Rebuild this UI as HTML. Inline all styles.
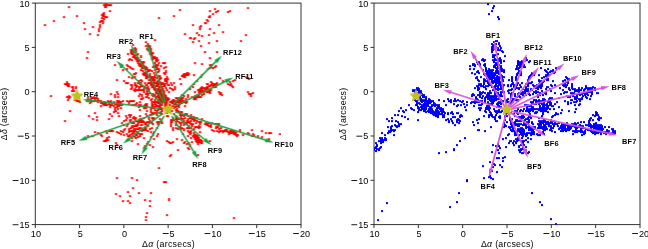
<!DOCTYPE html>
<html><head><meta charset="utf-8"><style>
html,body{margin:0;padding:0;background:#fff;width:648px;height:249px;overflow:hidden}
svg{display:block;will-change:transform}
text{font-family:"Liberation Sans",sans-serif;font-size:9.1px;fill:#000}
text.b{font-weight:bold;font-size:7.4px;letter-spacing:0.2px}
</style></head><body>
<svg width="648" height="249" viewBox="0 0 648 249" xmlns="http://www.w3.org/2000/svg">
<rect x="35.3" y="3.1" width="265.7" height="221.5" fill="none" stroke="#333" stroke-width="1"/>
<line x1="35.30" y1="224.6" x2="35.30" y2="228.1" stroke="#333" stroke-width="1"/>
<text x="30.84" y="236.80">10</text>
<line x1="79.58" y1="224.6" x2="79.58" y2="228.1" stroke="#333" stroke-width="1"/>
<text x="77.65" y="236.80">5</text>
<line x1="123.87" y1="224.6" x2="123.87" y2="228.1" stroke="#333" stroke-width="1"/>
<text x="121.94" y="236.80">0</text>
<line x1="168.15" y1="224.6" x2="168.15" y2="228.1" stroke="#333" stroke-width="1"/>
<text x="169.62" y="236.80">5</text><rect x="162.82" y="233.10" width="5.8" height="0.9" fill="#000"/>
<line x1="212.43" y1="224.6" x2="212.43" y2="228.1" stroke="#333" stroke-width="1"/>
<text x="211.37" y="236.80">10</text><rect x="204.57" y="233.10" width="5.8" height="0.9" fill="#000"/>
<line x1="256.72" y1="224.6" x2="256.72" y2="228.1" stroke="#333" stroke-width="1"/>
<text x="255.66" y="236.80">15</text><rect x="248.86" y="233.10" width="5.8" height="0.9" fill="#000"/>
<line x1="301.00" y1="224.6" x2="301.00" y2="228.1" stroke="#333" stroke-width="1"/>
<text x="299.94" y="236.80">20</text><rect x="293.14" y="233.10" width="5.8" height="0.9" fill="#000"/>
<line x1="31.799999999999997" y1="3.10" x2="35.3" y2="3.10" stroke="#333" stroke-width="1"/>
<text x="19.48" y="6.50">10</text>
<line x1="31.799999999999997" y1="47.40" x2="35.3" y2="47.40" stroke="#333" stroke-width="1"/>
<text x="24.54" y="50.80">5</text>
<line x1="31.799999999999997" y1="91.70" x2="35.3" y2="91.70" stroke="#333" stroke-width="1"/>
<text x="24.54" y="95.10">0</text>
<line x1="31.799999999999997" y1="136.00" x2="35.3" y2="136.00" stroke="#333" stroke-width="1"/>
<text x="24.54" y="139.40">5</text><rect x="17.74" y="135.70" width="5.8" height="0.9" fill="#000"/>
<line x1="31.799999999999997" y1="180.30" x2="35.3" y2="180.30" stroke="#333" stroke-width="1"/>
<text x="19.48" y="183.70">10</text><rect x="12.68" y="180.00" width="5.8" height="0.9" fill="#000"/>
<line x1="31.799999999999997" y1="224.60" x2="35.3" y2="224.60" stroke="#333" stroke-width="1"/>
<text x="19.48" y="228.00">15</text><rect x="12.68" y="224.30" width="5.8" height="0.9" fill="#000"/>
<rect x="374.0" y="3.1" width="266.0" height="221.5" fill="none" stroke="#333" stroke-width="1"/>
<line x1="374.00" y1="224.6" x2="374.00" y2="228.1" stroke="#333" stroke-width="1"/>
<text x="369.54" y="236.80">10</text>
<line x1="418.33" y1="224.6" x2="418.33" y2="228.1" stroke="#333" stroke-width="1"/>
<text x="416.40" y="236.80">5</text>
<line x1="462.67" y1="224.6" x2="462.67" y2="228.1" stroke="#333" stroke-width="1"/>
<text x="460.74" y="236.80">0</text>
<line x1="507.00" y1="224.6" x2="507.00" y2="228.1" stroke="#333" stroke-width="1"/>
<text x="508.47" y="236.80">5</text><rect x="501.67" y="233.10" width="5.8" height="0.9" fill="#000"/>
<line x1="551.33" y1="224.6" x2="551.33" y2="228.1" stroke="#333" stroke-width="1"/>
<text x="550.27" y="236.80">10</text><rect x="543.47" y="233.10" width="5.8" height="0.9" fill="#000"/>
<line x1="595.67" y1="224.6" x2="595.67" y2="228.1" stroke="#333" stroke-width="1"/>
<text x="594.61" y="236.80">15</text><rect x="587.81" y="233.10" width="5.8" height="0.9" fill="#000"/>
<line x1="640.00" y1="224.6" x2="640.00" y2="228.1" stroke="#333" stroke-width="1"/>
<text x="638.94" y="236.80">20</text><rect x="632.14" y="233.10" width="5.8" height="0.9" fill="#000"/>
<line x1="370.5" y1="3.10" x2="374.0" y2="3.10" stroke="#333" stroke-width="1"/>
<text x="358.18" y="6.50">10</text>
<line x1="370.5" y1="47.40" x2="374.0" y2="47.40" stroke="#333" stroke-width="1"/>
<text x="363.24" y="50.80">5</text>
<line x1="370.5" y1="91.70" x2="374.0" y2="91.70" stroke="#333" stroke-width="1"/>
<text x="363.24" y="95.10">0</text>
<line x1="370.5" y1="136.00" x2="374.0" y2="136.00" stroke="#333" stroke-width="1"/>
<text x="363.24" y="139.40">5</text><rect x="356.44" y="135.70" width="5.8" height="0.9" fill="#000"/>
<line x1="370.5" y1="180.30" x2="374.0" y2="180.30" stroke="#333" stroke-width="1"/>
<text x="358.18" y="183.70">10</text><rect x="351.38" y="180.00" width="5.8" height="0.9" fill="#000"/>
<line x1="370.5" y1="224.60" x2="374.0" y2="224.60" stroke="#333" stroke-width="1"/>
<text x="358.18" y="228.00">15</text><rect x="351.38" y="224.30" width="5.8" height="0.9" fill="#000"/>
<text style="font-size:8.8px;letter-spacing:0.28px" x="168.55" y="247.4" text-anchor="middle">Δ<tspan font-style="italic">α</tspan> (arcsecs)</text>
<text style="font-size:8.8px;letter-spacing:0.28px" x="507.4" y="247.4" text-anchor="middle">Δ<tspan font-style="italic">α</tspan> (arcsecs)</text>
<text style="font-size:8.8px;letter-spacing:0.28px" transform="translate(7.0,113.9) rotate(-90)" text-anchor="middle">Δ<tspan font-style="italic">δ</tspan> (arcsecs)</text>
<text style="font-size:8.8px;letter-spacing:0.28px" transform="translate(346.2,113.9) rotate(-90)" text-anchor="middle">Δ<tspan font-style="italic">δ</tspan> (arcsecs)</text>
<svg x="35.3" y="3.1" width="266.7" height="222.5" overflow="hidden"><g transform="translate(-35.3,-3.1)">
<path fill="#ff0000" d="M68,6h2v2h-2zM63,16h2v2h-2zM76,15h2v2h-2zM53,20h2v2h-2zM44,24h2v2h-2zM83,22h2v2h-2zM84,28h2v2h-2zM92,26h2v2h-2zM89,33h2v2h-2zM97,34h2v2h-2zM99,26h2v2h-2zM98,28h2v2h-2zM99,21h2v2h-2zM100,20h2v2h-2zM102,22h2v2h-2zM101,17h2v2h-2zM102,15h2v2h-2zM103,14h2v2h-2zM104,16h2v2h-2zM102,13h2v2h-2zM103,12h2v2h-2zM101,14h2v2h-2zM106,16h2v2h-2zM109,10h2v2h-2zM104,6h2v2h-2zM103,4h2v2h-2zM105,3h2v2h-2zM106,4h2v2h-2zM108,4h2v2h-2zM110,4h2v2h-2zM104,5h2v2h-2zM105,6h2v2h-2zM87,51h2v2h-2zM98,30h2v2h-2zM99,24h2v2h-2zM103,18h2v2h-2zM102,20h2v2h-2zM179,9h2v2h-2zM173,15h2v2h-2zM158,17h2v2h-2zM154,39h2v2h-2zM145,41h2v2h-2zM149,47h2v2h-2zM146,48h2v2h-2zM135,48h2v2h-2zM209,10h2v2h-2zM214,8h2v2h-2zM217,10h2v2h-2zM215,11h2v2h-2zM212,13h2v2h-2zM209,15h2v2h-2zM208,16h2v2h-2zM209,16h2v2h-2zM206,19h2v2h-2zM205,22h2v2h-2zM204,22h2v2h-2zM200,25h2v2h-2zM199,26h2v2h-2zM199,28h2v2h-2zM192,24h2v2h-2zM209,28h2v2h-2zM218,24h2v2h-2zM222,31h2v2h-2zM213,32h2v2h-2zM208,34h2v2h-2zM184,33h2v2h-2zM196,32h2v2h-2zM198,34h2v2h-2zM201,35h2v2h-2zM198,40h2v2h-2zM193,38h2v2h-2zM192,41h2v2h-2zM190,37h2v2h-2zM194,37h2v2h-2zM189,37h2v2h-2zM200,45h2v2h-2zM208,42h2v2h-2zM216,40h2v2h-2zM204,51h2v2h-2zM216,51h2v2h-2zM227,11h2v2h-2zM229,10h2v2h-2zM207,20h2v2h-2zM247,7h2v2h-2zM245,34h2v2h-2zM240,40h2v2h-2zM86,57h2v2h-2zM66,81h2v2h-2zM64,83h2v2h-2zM66,82h2v2h-2zM67,84h2v2h-2zM68,85h2v2h-2zM71,86h2v2h-2zM72,86h2v2h-2zM75,86h2v2h-2zM50,95h2v2h-2zM66,84h2v2h-2zM67,85h2v2h-2zM68,83h2v2h-2zM72,88h2v2h-2zM73,90h2v2h-2zM75,87h2v2h-2zM71,90h2v2h-2zM68,95h2v2h-2zM66,96h2v2h-2zM68,97h2v2h-2zM69,96h2v2h-2zM67,99h2v2h-2zM76,100h2v2h-2zM78,100h2v2h-2zM79,101h2v2h-2zM74,99h2v2h-2zM75,98h2v2h-2zM87,97h2v2h-2zM90,96h2v2h-2zM93,96h2v2h-2zM94,97h2v2h-2zM96,97h2v2h-2zM97,98h2v2h-2zM90,98h2v2h-2zM93,100h2v2h-2zM96,100h2v2h-2zM99,100h2v2h-2zM102,101h2v2h-2zM100,102h2v2h-2zM103,103h2v2h-2zM92,100h2v2h-2zM89,100h2v2h-2zM86,100h2v2h-2zM90,97h2v2h-2zM92,97h2v2h-2zM94,99h2v2h-2zM98,100h2v2h-2zM100,100h2v2h-2zM102,102h2v2h-2zM69,110h2v2h-2zM88,115h2v2h-2zM94,112h2v2h-2zM96,116h2v2h-2zM100,105h2v2h-2zM103,104h2v2h-2zM114,64h2v2h-2zM132,44h2v2h-2zM134,47h2v2h-2zM135,51h2v2h-2zM137,53h2v2h-2zM140,55h2v2h-2zM140,56h2v2h-2zM127,53h2v2h-2zM129,58h2v2h-2zM131,59h2v2h-2zM128,59h2v2h-2zM126,64h2v2h-2zM127,65h2v2h-2zM129,66h2v2h-2zM130,67h2v2h-2zM132,68h2v2h-2zM126,68h2v2h-2zM120,66h2v2h-2zM122,69h2v2h-2zM160,65h2v2h-2zM162,62h2v2h-2zM163,67h2v2h-2zM156,57h2v2h-2zM157,59h2v2h-2zM158,62h2v2h-2zM150,52h2v2h-2zM149,53h2v2h-2zM136,54h2v2h-2zM141,61h2v2h-2zM138,59h2v2h-2zM131,50h2v2h-2zM131,49h2v2h-2zM132,49h2v2h-2zM135,58h2v2h-2zM133,51h2v2h-2zM137,62h2v2h-2zM139,60h2v2h-2zM146,67h2v2h-2zM143,66h2v2h-2zM133,56h2v2h-2zM132,53h2v2h-2zM140,61h2v2h-2zM139,59h2v2h-2zM140,62h2v2h-2zM134,55h2v2h-2zM137,57h2v2h-2zM141,65h2v2h-2zM133,54h2v2h-2zM136,60h2v2h-2zM141,63h2v2h-2zM145,68h2v2h-2zM132,52h2v2h-2zM130,50h2v2h-2zM141,64h2v2h-2zM140,63h2v2h-2zM138,60h2v2h-2zM141,67h2v2h-2zM136,59h2v2h-2zM138,63h2v2h-2zM143,65h2v2h-2zM135,57h2v2h-2zM130,49h2v2h-2zM134,51h2v2h-2zM134,57h2v2h-2zM131,52h2v2h-2zM132,56h2v2h-2zM135,50h2v2h-2zM131,51h2v2h-2zM131,53h2v2h-2zM130,52h2v2h-2zM157,68h2v2h-2zM152,57h2v2h-2zM156,60h2v2h-2zM156,67h2v2h-2zM156,66h2v2h-2zM151,54h2v2h-2zM147,47h2v2h-2zM149,45h2v2h-2zM150,48h2v2h-2zM152,52h2v2h-2zM147,43h2v2h-2zM148,46h2v2h-2zM145,45h2v2h-2zM155,59h2v2h-2zM150,50h2v2h-2zM155,66h2v2h-2zM152,56h2v2h-2zM151,52h2v2h-2zM157,64h2v2h-2zM154,56h2v2h-2zM154,57h2v2h-2zM151,58h2v2h-2zM147,49h2v2h-2zM152,58h2v2h-2zM154,65h2v2h-2zM155,65h2v2h-2zM149,50h2v2h-2zM147,44h2v2h-2zM149,51h2v2h-2zM158,68h2v2h-2zM156,68h2v2h-2zM150,49h2v2h-2zM116,79h2v2h-2zM123,80h2v2h-2zM125,82h2v2h-2zM130,84h2v2h-2zM130,88h2v2h-2zM138,95h2v2h-2zM131,77h2v2h-2zM134,73h2v2h-2zM132,76h2v2h-2zM134,76h2v2h-2zM133,73h2v2h-2zM128,76h2v2h-2zM135,72h2v2h-2zM127,82h2v2h-2zM152,95h2v2h-2zM134,90h2v2h-2zM140,98h2v2h-2zM131,85h2v2h-2zM131,87h2v2h-2zM134,88h2v2h-2zM142,97h2v2h-2zM139,89h2v2h-2zM137,82h2v2h-2zM146,90h2v2h-2zM133,89h2v2h-2zM141,95h2v2h-2zM131,84h2v2h-2zM147,89h2v2h-2zM141,94h2v2h-2zM142,89h2v2h-2zM139,93h2v2h-2zM137,89h2v2h-2zM145,96h2v2h-2zM141,98h2v2h-2zM148,97h2v2h-2zM144,82h2v2h-2zM151,98h2v2h-2zM136,89h2v2h-2zM164,94h2v2h-2zM154,79h2v2h-2zM148,79h2v2h-2zM158,70h2v2h-2zM155,82h2v2h-2zM156,84h2v2h-2zM160,98h2v2h-2zM146,77h2v2h-2zM149,73h2v2h-2zM160,77h2v2h-2zM155,90h2v2h-2zM146,71h2v2h-2zM158,82h2v2h-2zM157,93h2v2h-2zM153,79h2v2h-2zM155,97h2v2h-2zM154,76h2v2h-2zM146,74h2v2h-2zM145,75h2v2h-2zM150,78h2v2h-2zM159,78h2v2h-2zM154,74h2v2h-2zM151,70h2v2h-2zM149,69h2v2h-2zM159,86h2v2h-2zM163,72h2v2h-2zM160,82h2v2h-2zM154,94h2v2h-2zM152,84h2v2h-2zM158,98h2v2h-2zM158,88h2v2h-2zM152,79h2v2h-2zM145,73h2v2h-2zM149,74h2v2h-2zM161,89h2v2h-2zM149,76h2v2h-2zM150,83h2v2h-2zM163,85h2v2h-2zM150,80h2v2h-2zM153,84h2v2h-2zM150,76h2v2h-2zM156,85h2v2h-2zM159,89h2v2h-2zM158,95h2v2h-2zM164,73h2v2h-2zM162,88h2v2h-2zM159,93h2v2h-2zM160,94h2v2h-2zM156,96h2v2h-2zM158,90h2v2h-2zM148,70h2v2h-2zM155,88h2v2h-2zM156,89h2v2h-2zM154,69h2v2h-2zM160,91h2v2h-2zM154,85h2v2h-2zM157,71h2v2h-2zM159,77h2v2h-2zM145,77h2v2h-2zM159,75h2v2h-2zM159,98h2v2h-2zM114,94h2v2h-2zM114,96h2v2h-2zM117,96h2v2h-2zM116,91h2v2h-2zM110,93h2v2h-2zM117,93h2v2h-2zM209,57h2v2h-2zM194,62h2v2h-2zM201,63h2v2h-2zM164,62h2v2h-2zM165,66h2v2h-2zM209,64h2v2h-2zM210,66h2v2h-2zM209,67h2v2h-2zM211,64h2v2h-2zM212,67h2v2h-2zM214,66h2v2h-2zM215,65h2v2h-2zM207,68h2v2h-2zM166,76h2v2h-2zM164,78h2v2h-2zM166,82h2v2h-2zM166,79h2v2h-2zM166,80h2v2h-2zM166,77h2v2h-2zM167,78h2v2h-2zM168,84h2v2h-2zM164,80h2v2h-2zM167,84h2v2h-2zM165,70h2v2h-2zM165,71h2v2h-2zM170,82h2v2h-2zM171,84h2v2h-2zM173,82h2v2h-2zM174,86h2v2h-2zM169,87h2v2h-2zM171,88h2v2h-2zM172,89h2v2h-2zM174,88h2v2h-2zM166,89h2v2h-2zM168,91h2v2h-2zM182,74h2v2h-2zM183,73h2v2h-2zM184,73h2v2h-2zM186,72h2v2h-2zM187,72h2v2h-2zM188,73h2v2h-2zM186,74h2v2h-2zM184,74h2v2h-2zM183,76h2v2h-2zM184,76h2v2h-2zM181,75h2v2h-2zM187,74h2v2h-2zM179,78h2v2h-2zM180,83h2v2h-2zM193,74h2v2h-2zM200,76h2v2h-2zM201,74h2v2h-2zM196,80h2v2h-2zM219,77h2v2h-2zM222,80h2v2h-2zM210,81h2v2h-2zM189,88h2v2h-2zM192,86h2v2h-2zM193,83h2v2h-2zM181,94h2v2h-2zM183,95h2v2h-2zM182,97h2v2h-2zM185,98h2v2h-2zM187,96h2v2h-2zM218,91h2v2h-2zM220,92h2v2h-2zM221,94h2v2h-2zM219,93h2v2h-2zM194,91h2v2h-2zM216,83h2v2h-2zM195,97h2v2h-2zM201,86h2v2h-2zM197,96h2v2h-2zM212,83h2v2h-2zM214,86h2v2h-2zM199,88h2v2h-2zM199,89h2v2h-2zM191,96h2v2h-2zM209,89h2v2h-2zM215,83h2v2h-2zM202,87h2v2h-2zM197,94h2v2h-2zM207,86h2v2h-2zM204,88h2v2h-2zM194,97h2v2h-2zM210,88h2v2h-2zM200,90h2v2h-2zM203,92h2v2h-2zM213,85h2v2h-2zM200,89h2v2h-2zM203,93h2v2h-2zM201,91h2v2h-2zM195,98h2v2h-2zM207,87h2v2h-2zM197,89h2v2h-2zM198,89h2v2h-2zM208,85h2v2h-2zM212,85h2v2h-2zM194,95h2v2h-2zM193,98h2v2h-2zM207,88h2v2h-2zM198,96h2v2h-2zM200,96h2v2h-2zM215,86h2v2h-2zM196,94h2v2h-2zM201,90h2v2h-2zM215,84h2v2h-2zM206,87h2v2h-2zM211,82h2v2h-2zM207,83h2v2h-2zM212,86h2v2h-2zM209,85h2v2h-2zM193,97h2v2h-2zM205,87h2v2h-2zM196,95h2v2h-2zM247,77h2v2h-2zM248,78h2v2h-2zM245,76h2v2h-2zM229,81h2v2h-2zM230,83h2v2h-2zM231,85h2v2h-2zM229,84h2v2h-2zM232,80h2v2h-2zM234,79h2v2h-2zM227,83h2v2h-2zM232,86h2v2h-2zM247,91h2v2h-2zM248,93h2v2h-2zM250,93h2v2h-2zM252,92h2v2h-2zM250,95h2v2h-2zM128,103h2v2h-2zM113,101h2v2h-2zM110,100h2v2h-2zM114,103h2v2h-2zM130,100h2v2h-2zM104,101h2v2h-2zM131,100h2v2h-2zM116,100h2v2h-2zM136,102h2v2h-2zM107,100h2v2h-2zM120,102h2v2h-2zM129,100h2v2h-2zM111,103h2v2h-2zM120,101h2v2h-2zM116,102h2v2h-2zM118,102h2v2h-2zM118,100h2v2h-2zM133,100h2v2h-2zM104,104h2v2h-2zM121,104h2v2h-2zM122,100h2v2h-2zM105,102h2v2h-2zM108,103h2v2h-2zM119,102h2v2h-2zM110,101h2v2h-2zM152,112h2v2h-2zM145,106h2v2h-2zM159,105h2v2h-2zM159,108h2v2h-2zM157,101h2v2h-2zM157,102h2v2h-2zM150,111h2v2h-2zM158,102h2v2h-2zM146,105h2v2h-2zM152,105h2v2h-2zM145,103h2v2h-2zM156,112h2v2h-2zM143,107h2v2h-2zM153,107h2v2h-2zM154,103h2v2h-2zM150,107h2v2h-2zM150,109h2v2h-2zM151,105h2v2h-2zM151,102h2v2h-2zM156,110h2v2h-2zM151,101h2v2h-2zM145,105h2v2h-2zM144,105h2v2h-2zM154,100h2v2h-2zM152,104h2v2h-2zM156,111h2v2h-2zM151,113h2v2h-2zM144,104h2v2h-2zM156,101h2v2h-2zM159,103h2v2h-2zM146,103h2v2h-2zM145,113h2v2h-2zM155,112h2v2h-2zM146,110h2v2h-2zM145,107h2v2h-2zM106,104h2v2h-2zM109,106h2v2h-2zM111,104h2v2h-2zM114,107h2v2h-2zM116,106h2v2h-2zM115,110h2v2h-2zM117,112h2v2h-2zM118,115h2v2h-2zM111,115h2v2h-2zM108,118h2v2h-2zM109,113h2v2h-2zM113,111h2v2h-2zM120,107h2v2h-2zM116,104h2v2h-2zM119,104h2v2h-2zM114,109h2v2h-2zM117,108h2v2h-2zM132,117h2v2h-2zM139,109h2v2h-2zM139,101h2v2h-2zM128,101h2v2h-2zM126,100h2v2h-2zM157,123h2v2h-2zM156,127h2v2h-2zM150,121h2v2h-2zM152,123h2v2h-2zM142,120h2v2h-2zM140,127h2v2h-2zM123,129h2v2h-2zM148,118h2v2h-2zM132,126h2v2h-2zM135,117h2v2h-2zM146,115h2v2h-2zM142,129h2v2h-2zM140,124h2v2h-2zM141,121h2v2h-2zM138,128h2v2h-2zM123,120h2v2h-2zM127,123h2v2h-2zM140,118h2v2h-2zM124,128h2v2h-2zM123,124h2v2h-2zM134,118h2v2h-2zM139,120h2v2h-2zM142,121h2v2h-2zM128,128h2v2h-2zM121,122h2v2h-2zM153,117h2v2h-2zM137,124h2v2h-2zM148,117h2v2h-2zM130,119h2v2h-2zM147,125h2v2h-2zM146,121h2v2h-2zM131,125h2v2h-2zM144,127h2v2h-2zM178,101h2v2h-2zM175,103h2v2h-2zM179,103h2v2h-2zM169,104h2v2h-2zM181,99h2v2h-2zM169,101h2v2h-2zM178,102h2v2h-2zM181,102h2v2h-2zM176,105h2v2h-2zM173,106h2v2h-2zM172,105h2v2h-2zM175,102h2v2h-2zM168,104h2v2h-2zM167,99h2v2h-2zM171,100h2v2h-2zM165,99h2v2h-2zM177,104h2v2h-2zM177,105h2v2h-2zM165,104h2v2h-2zM171,106h2v2h-2zM166,101h2v2h-2zM166,99h2v2h-2zM176,101h2v2h-2zM165,109h2v2h-2zM166,112h2v2h-2zM167,115h2v2h-2zM168,111h2v2h-2zM169,110h2v2h-2zM180,116h2v2h-2zM182,118h2v2h-2zM184,117h2v2h-2zM187,119h2v2h-2zM189,122h2v2h-2zM193,120h2v2h-2zM194,118h2v2h-2zM195,122h2v2h-2zM191,124h2v2h-2zM188,125h2v2h-2zM183,122h2v2h-2zM186,123h2v2h-2zM178,126h2v2h-2zM181,127h2v2h-2zM183,129h2v2h-2zM186,127h2v2h-2zM177,128h2v2h-2zM204,123h2v2h-2zM206,124h2v2h-2zM208,125h2v2h-2zM210,125h2v2h-2zM215,127h2v2h-2zM218,128h2v2h-2zM175,117h2v2h-2zM176,119h2v2h-2zM179,122h2v2h-2zM181,111h2v2h-2zM211,122h2v2h-2zM191,116h2v2h-2zM177,110h2v2h-2zM189,117h2v2h-2zM193,116h2v2h-2zM220,127h2v2h-2zM215,126h2v2h-2zM178,111h2v2h-2zM196,120h2v2h-2zM192,118h2v2h-2zM201,118h2v2h-2zM216,123h2v2h-2zM214,123h2v2h-2zM210,126h2v2h-2zM176,111h2v2h-2zM198,121h2v2h-2zM185,114h2v2h-2zM191,118h2v2h-2zM187,118h2v2h-2zM190,114h2v2h-2zM208,122h2v2h-2zM181,114h2v2h-2zM179,114h2v2h-2zM207,124h2v2h-2zM205,121h2v2h-2zM195,117h2v2h-2zM218,123h2v2h-2zM186,113h2v2h-2zM217,126h2v2h-2zM193,119h2v2h-2zM187,115h2v2h-2zM200,121h2v2h-2zM210,124h2v2h-2zM192,116h2v2h-2zM183,115h2v2h-2zM206,123h2v2h-2zM184,113h2v2h-2zM175,124h2v2h-2zM170,123h2v2h-2zM170,121h2v2h-2zM175,127h2v2h-2zM170,119h2v2h-2zM171,121h2v2h-2zM173,119h2v2h-2zM172,119h2v2h-2zM170,122h2v2h-2zM175,122h2v2h-2zM170,125h2v2h-2zM170,120h2v2h-2zM172,117h2v2h-2zM172,127h2v2h-2zM175,123h2v2h-2zM224,129h2v2h-2zM226,129h2v2h-2zM227,131h2v2h-2zM229,130h2v2h-2zM230,132h2v2h-2zM232,132h2v2h-2zM233,133h2v2h-2zM235,134h2v2h-2zM236,135h2v2h-2zM234,131h2v2h-2zM231,130h2v2h-2zM235,132h2v2h-2zM237,134h2v2h-2zM239,129h2v2h-2zM239,130h2v2h-2zM242,134h2v2h-2zM247,132h2v2h-2zM248,133h2v2h-2zM251,129h2v2h-2zM252,133h2v2h-2zM253,134h2v2h-2zM257,135h2v2h-2zM261,130h2v2h-2zM261,136h2v2h-2zM265,132h2v2h-2zM268,132h2v2h-2zM270,132h2v2h-2zM268,138h2v2h-2zM279,133h2v2h-2zM251,135h2v2h-2zM232,130h2v2h-2zM229,132h2v2h-2zM225,130h2v2h-2zM228,133h2v2h-2zM64,120h2v2h-2zM92,118h2v2h-2zM96,119h2v2h-2zM87,135h2v2h-2zM92,135h2v2h-2zM94,131h2v2h-2zM97,132h2v2h-2zM100,134h2v2h-2zM101,135h2v2h-2zM103,140h2v2h-2zM91,135h2v2h-2zM105,130h2v2h-2zM106,132h2v2h-2zM108,130h2v2h-2zM110,130h2v2h-2zM112,130h2v2h-2zM105,139h2v2h-2zM106,137h2v2h-2zM107,139h2v2h-2zM108,136h2v2h-2zM105,140h2v2h-2zM116,131h2v2h-2zM118,132h2v2h-2zM120,130h2v2h-2zM122,131h2v2h-2zM123,134h2v2h-2zM120,133h2v2h-2zM128,130h2v2h-2zM130,130h2v2h-2zM132,131h2v2h-2zM133,132h2v2h-2zM131,133h2v2h-2zM129,134h2v2h-2zM132,135h2v2h-2zM134,136h2v2h-2zM135,137h2v2h-2zM131,137h2v2h-2zM127,135h2v2h-2zM134,130h2v2h-2zM135,134h2v2h-2zM126,139h2v2h-2zM131,140h2v2h-2zM137,143h2v2h-2zM115,142h2v2h-2zM116,144h2v2h-2zM150,131h2v2h-2zM152,133h2v2h-2zM152,134h2v2h-2zM153,131h2v2h-2zM150,136h2v2h-2zM153,138h2v2h-2zM156,135h2v2h-2zM157,133h2v2h-2zM149,144h2v2h-2zM152,146h2v2h-2zM146,143h2v2h-2zM144,145h2v2h-2zM143,147h2v2h-2zM147,141h2v2h-2zM172,129h2v2h-2zM187,130h2v2h-2zM188,131h2v2h-2zM189,133h2v2h-2zM190,132h2v2h-2zM193,134h2v2h-2zM194,136h2v2h-2zM195,137h2v2h-2zM197,138h2v2h-2zM198,139h2v2h-2zM199,140h2v2h-2zM200,141h2v2h-2zM201,142h2v2h-2zM195,134h2v2h-2zM196,135h2v2h-2zM197,136h2v2h-2zM198,137h2v2h-2zM200,139h2v2h-2zM201,140h2v2h-2zM195,139h2v2h-2zM198,141h2v2h-2zM200,142h2v2h-2zM192,135h2v2h-2zM166,140h2v2h-2zM168,141h2v2h-2zM169,142h2v2h-2zM170,142h2v2h-2zM172,141h2v2h-2zM176,138h2v2h-2zM181,139h2v2h-2zM183,142h2v2h-2zM184,141h2v2h-2zM187,147h2v2h-2zM188,148h2v2h-2zM189,144h2v2h-2zM177,149h2v2h-2zM170,154h2v2h-2zM169,155h2v2h-2zM197,154h2v2h-2zM209,140h2v2h-2zM211,129h2v2h-2zM213,130h2v2h-2zM216,130h2v2h-2zM218,131h2v2h-2zM219,130h2v2h-2zM221,130h2v2h-2zM222,131h2v2h-2zM223,130h2v2h-2zM116,177h2v2h-2zM131,177h2v2h-2zM132,187h2v2h-2zM127,191h2v2h-2zM115,193h2v2h-2zM119,195h2v2h-2zM129,195h2v2h-2zM122,200h2v2h-2zM127,200h2v2h-2zM158,167h2v2h-2zM136,179h2v2h-2zM163,181h2v2h-2zM165,181h2v2h-2zM138,192h2v2h-2zM150,192h2v2h-2zM144,199h2v2h-2zM149,200h2v2h-2zM168,198h2v2h-2zM168,199h2v2h-2zM129,202h2v2h-2zM149,205h2v2h-2zM146,212h2v2h-2zM145,216h2v2h-2zM145,219h2v2h-2zM166,214h2v2h-2zM233,217h2v2h-2zM147,93h2v2h-2zM146,84h2v2h-2zM161,109h2v2h-2zM139,83h2v2h-2zM154,95h2v2h-2zM135,84h2v2h-2zM158,100h2v2h-2zM138,82h2v2h-2zM135,86h2v2h-2zM138,80h2v2h-2zM141,80h2v2h-2zM140,85h2v2h-2zM161,100h2v2h-2zM138,86h2v2h-2zM148,90h2v2h-2zM140,82h2v2h-2zM166,104h2v2h-2zM141,89h2v2h-2zM158,107h2v2h-2zM146,96h2v2h-2zM147,94h2v2h-2zM159,97h2v2h-2zM138,88h2v2h-2zM136,85h2v2h-2zM146,87h2v2h-2zM143,87h2v2h-2zM161,102h2v2h-2zM139,86h2v2h-2zM147,87h2v2h-2zM145,93h2v2h-2zM160,104h2v2h-2zM134,82h2v2h-2zM150,99h2v2h-2zM164,105h2v2h-2zM158,105h2v2h-2zM144,86h2v2h-2zM148,88h2v2h-2zM146,92h2v2h-2zM159,106h2v2h-2zM140,89h2v2h-2zM155,105h2v2h-2zM155,101h2v2h-2zM160,100h2v2h-2zM162,100h2v2h-2zM152,93h2v2h-2zM160,101h2v2h-2zM157,105h2v2h-2zM163,101h2v2h-2zM161,107h2v2h-2zM154,99h2v2h-2zM134,84h2v2h-2zM151,94h2v2h-2zM143,91h2v2h-2zM155,104h2v2h-2zM142,85h2v2h-2zM145,84h2v2h-2zM147,86h2v2h-2zM140,79h2v2h-2zM149,92h2v2h-2zM143,89h2v2h-2zM161,104h2v2h-2zM153,87h2v2h-2zM163,90h2v2h-2zM159,90h2v2h-2zM154,89h2v2h-2zM163,92h2v2h-2zM157,85h2v2h-2zM164,102h2v2h-2zM150,82h2v2h-2zM151,78h2v2h-2zM161,86h2v2h-2zM156,92h2v2h-2zM164,96h2v2h-2zM165,96h2v2h-2zM158,87h2v2h-2zM158,97h2v2h-2zM156,81h2v2h-2zM154,86h2v2h-2zM153,82h2v2h-2zM157,90h2v2h-2zM166,102h2v2h-2zM165,95h2v2h-2zM164,100h2v2h-2zM153,88h2v2h-2zM158,80h2v2h-2zM155,91h2v2h-2zM155,92h2v2h-2zM162,89h2v2h-2zM158,94h2v2h-2zM157,88h2v2h-2zM157,82h2v2h-2zM161,87h2v2h-2zM152,76h2v2h-2zM160,96h2v2h-2zM156,82h2v2h-2zM161,88h2v2h-2zM157,94h2v2h-2zM152,85h2v2h-2zM168,98h2v2h-2zM166,100h2v2h-2zM156,77h2v2h-2zM162,98h2v2h-2zM153,80h2v2h-2zM157,95h2v2h-2zM179,102h2v2h-2zM176,100h2v2h-2zM175,101h2v2h-2zM180,97h2v2h-2zM175,100h2v2h-2zM174,101h2v2h-2zM177,100h2v2h-2zM181,101h2v2h-2zM178,98h2v2h-2zM179,97h2v2h-2zM174,100h2v2h-2zM183,100h2v2h-2zM178,99h2v2h-2zM148,121h2v2h-2zM129,135h2v2h-2zM136,128h2v2h-2zM156,121h2v2h-2zM139,118h2v2h-2zM143,129h2v2h-2zM129,120h2v2h-2zM145,129h2v2h-2zM143,121h2v2h-2zM125,119h2v2h-2zM141,124h2v2h-2zM137,136h2v2h-2zM136,125h2v2h-2zM141,119h2v2h-2zM138,127h2v2h-2zM152,117h2v2h-2zM137,121h2v2h-2zM143,117h2v2h-2zM136,134h2v2h-2zM125,115h2v2h-2zM126,133h2v2h-2zM129,116h2v2h-2zM126,117h2v2h-2zM143,137h2v2h-2zM139,115h2v2h-2zM149,128h2v2h-2zM128,114h2v2h-2zM130,127h2v2h-2zM139,121h2v2h-2zM133,116h2v2h-2zM149,114h2v2h-2zM130,114h2v2h-2zM136,131h2v2h-2zM126,125h2v2h-2zM139,133h2v2h-2zM144,123h2v2h-2zM175,109h2v2h-2zM176,108h2v2h-2zM153,101h2v2h-2zM160,111h2v2h-2zM173,107h2v2h-2zM161,110h2v2h-2zM167,103h2v2h-2zM160,102h2v2h-2zM173,113h2v2h-2zM179,111h2v2h-2zM159,112h2v2h-2zM157,109h2v2h-2zM164,103h2v2h-2zM177,99h2v2h-2zM153,112h2v2h-2zM166,115h2v2h-2zM167,106h2v2h-2zM172,99h2v2h-2zM157,99h2v2h-2zM175,106h2v2h-2zM171,102h2v2h-2zM171,110h2v2h-2zM90,101h2v2h-2zM138,104h2v2h-2zM133,104h2v2h-2zM154,109h2v2h-2zM115,103h2v2h-2zM144,107h2v2h-2zM118,105h2v2h-2zM113,105h2v2h-2zM140,104h2v2h-2zM135,103h2v2h-2zM139,104h2v2h-2zM131,104h2v2h-2zM102,103h2v2h-2zM89,102h2v2h-2zM151,104h2v2h-2zM118,103h2v2h-2zM138,106h2v2h-2zM109,104h2v2h-2zM97,100h2v2h-2zM145,104h2v2h-2zM97,101h2v2h-2zM109,101h2v2h-2zM154,106h2v2h-2zM143,105h2v2h-2zM152,107h2v2h-2zM173,99h2v2h-2zM178,106h2v2h-2zM178,104h2v2h-2zM184,101h2v2h-2zM175,97h2v2h-2zM179,99h2v2h-2zM181,100h2v2h-2zM177,97h2v2h-2zM180,98h2v2h-2zM173,103h2v2h-2zM173,101h2v2h-2zM185,102h2v2h-2zM184,105h2v2h-2zM183,101h2v2h-2zM177,101h2v2h-2zM186,101h2v2h-2zM187,94h2v2h-2zM179,101h2v2h-2zM182,121h2v2h-2zM176,116h2v2h-2zM176,120h2v2h-2zM180,118h2v2h-2zM177,118h2v2h-2zM186,120h2v2h-2zM178,121h2v2h-2zM175,118h2v2h-2zM184,122h2v2h-2zM180,122h2v2h-2zM175,121h2v2h-2zM178,118h2v2h-2zM159,118h2v2h-2zM149,120h2v2h-2zM161,121h2v2h-2zM151,122h2v2h-2zM161,113h2v2h-2zM147,121h2v2h-2zM160,120h2v2h-2zM158,121h2v2h-2zM161,122h2v2h-2zM152,119h2v2h-2zM156,114h2v2h-2zM151,117h2v2h-2zM196,141h2v2h-2zM193,132h2v2h-2zM186,121h2v2h-2zM189,145h2v2h-2zM180,115h2v2h-2zM192,117h2v2h-2zM199,123h2v2h-2zM183,128h2v2h-2zM179,126h2v2h-2zM192,123h2v2h-2zM194,119h2v2h-2zM186,143h2v2h-2zM191,125h2v2h-2zM193,128h2v2h-2zM187,135h2v2h-2zM190,127h2v2h-2zM180,128h2v2h-2zM188,142h2v2h-2zM199,131h2v2h-2zM183,120h2v2h-2zM190,137h2v2h-2zM199,126h2v2h-2zM198,127h2v2h-2zM191,141h2v2h-2zM180,124h2v2h-2zM193,133h2v2h-2zM197,135h2v2h-2zM175,115h2v2h-2zM190,120h2v2h-2zM196,126h2v2h-2zM198,125h2v2h-2zM190,130h2v2h-2zM182,133h2v2h-2zM194,117h2v2h-2zM194,126h2v2h-2zM188,127h2v2h-2zM197,143h2v2h-2zM193,136h2v2h-2zM195,135h2v2h-2zM190,123h2v2h-2zM183,124h2v2h-2zM197,139h2v2h-2zM194,138h2v2h-2zM195,140h2v2h-2zM188,121h2v2h-2zM196,117h2v2h-2zM145,122h2v2h-2zM135,124h2v2h-2zM138,120h2v2h-2zM151,127h2v2h-2zM144,128h2v2h-2zM146,124h2v2h-2zM137,132h2v2h-2zM137,128h2v2h-2zM129,119h2v2h-2zM135,120h2v2h-2zM128,131h2v2h-2zM132,132h2v2h-2zM147,130h2v2h-2zM133,128h2v2h-2zM137,122h2v2h-2zM131,122h2v2h-2zM134,128h2v2h-2zM139,135h2v2h-2zM141,130h2v2h-2zM141,133h2v2h-2zM132,130h2v2h-2zM133,125h2v2h-2zM133,122h2v2h-2zM135,125h2v2h-2zM136,124h2v2h-2zM145,127h2v2h-2zM216,82h2v2h-2zM206,91h2v2h-2zM209,92h2v2h-2zM199,91h2v2h-2zM210,84h2v2h-2zM214,83h2v2h-2zM212,84h2v2h-2zM206,83h2v2h-2zM208,90h2v2h-2zM207,91h2v2h-2zM198,91h2v2h-2zM206,86h2v2h-2zM203,90h2v2h-2zM213,84h2v2h-2zM198,95h2v2h-2zM198,93h2v2h-2zM205,88h2v2h-2zM214,85h2v2h-2zM210,89h2v2h-2zM205,90h2v2h-2zM201,89h2v2h-2zM200,87h2v2h-2zM201,94h2v2h-2zM203,87h2v2h-2zM209,91h2v2h-2zM151,82h2v2h-2zM139,65h2v2h-2zM147,76h2v2h-2zM143,74h2v2h-2zM161,94h2v2h-2zM145,71h2v2h-2zM164,97h2v2h-2zM142,70h2v2h-2zM160,90h2v2h-2zM158,92h2v2h-2zM160,95h2v2h-2zM147,69h2v2h-2zM153,78h2v2h-2zM140,69h2v2h-2zM150,84h2v2h-2zM143,67h2v2h-2zM152,77h2v2h-2zM142,73h2v2h-2zM151,86h2v2h-2zM138,64h2v2h-2zM145,66h2v2h-2zM142,66h2v2h-2zM153,83h2v2h-2zM144,74h2v2h-2zM165,97h2v2h-2zM148,76h2v2h-2zM143,72h2v2h-2zM162,94h2v2h-2zM147,82h2v2h-2zM142,65h2v2h-2zM149,82h2v2h-2zM145,67h2v2h-2zM156,83h2v2h-2zM157,89h2v2h-2zM162,95h2v2h-2zM161,93h2v2h-2zM143,61h2v2h-2zM142,63h2v2h-2zM162,97h2v2h-2zM165,87h2v2h-2zM159,81h2v2h-2zM153,65h2v2h-2zM162,93h2v2h-2zM156,65h2v2h-2zM154,62h2v2h-2zM158,86h2v2h-2zM163,99h2v2h-2zM152,66h2v2h-2zM153,66h2v2h-2zM155,60h2v2h-2zM167,97h2v2h-2zM153,72h2v2h-2zM164,95h2v2h-2zM164,83h2v2h-2zM160,84h2v2h-2zM164,85h2v2h-2zM155,64h2v2h-2zM163,91h2v2h-2zM162,82h2v2h-2zM158,83h2v2h-2zM158,75h2v2h-2zM157,84h2v2h-2zM163,84h2v2h-2zM161,83h2v2h-2zM157,80h2v2h-2z"/>
<polygon points="166.47,102.12 150.21,50.97 151.52,50.55 146.90,43.10 147.43,51.85 148.74,51.44 164.99,102.59" fill="#12a640"/>
<polygon points="164.92,102.62 135.72,52.07 136.91,51.38 130.80,45.10 133.19,53.54 134.38,52.85 163.58,103.39" fill="#12a640"/>
<polygon points="163.08,103.78 123.21,66.08 124.15,65.08 116.50,60.80 121.20,68.20 122.14,67.20 162.02,104.91" fill="#12a640"/>
<polygon points="160.64,107.87 91.23,99.90 91.39,98.53 82.70,99.70 90.90,102.81 91.06,101.44 160.46,109.41" fill="#12a640"/>
<polygon points="160.66,111.24 86.17,137.27 85.72,135.97 78.40,140.80 87.13,140.03 86.68,138.73 161.18,112.71" fill="#12a640"/>
<polygon points="161.56,113.42 129.30,137.94 128.47,136.85 123.00,143.70 131.07,140.27 130.24,139.17 162.50,114.66" fill="#12a640"/>
<polygon points="163.54,115.58 145.23,146.87 144.04,146.18 141.60,154.60 147.75,148.35 146.56,147.66 164.88,116.36" fill="#12a640"/>
<polygon points="171.24,116.31 193.11,152.15 191.94,152.86 198.20,159.00 195.61,150.62 194.43,151.34 172.57,115.50" fill="#12a640"/>
<polygon points="173.31,114.85 204.33,140.22 203.46,141.28 211.40,145.00 206.18,137.95 205.31,139.02 174.30,113.65" fill="#12a640"/>
<polygon points="174.92,112.48 265.26,140.80 264.85,142.11 273.60,142.60 266.13,138.01 265.72,139.32 175.39,111.00" fill="#12a640"/>
<polygon points="175.08,106.90 225.91,82.03 226.51,83.27 233.20,77.60 224.62,79.40 225.22,80.64 174.40,105.51" fill="#12a640"/>
<polygon points="173.85,104.74 216.44,62.06 217.42,63.03 221.90,55.50 214.37,60.00 215.35,60.97 172.75,103.64" fill="#12a640"/>
<polygon points="168.00,102.30 170.00,106.64 174.75,107.21 171.24,110.45 172.17,115.14 168.00,112.81 163.83,115.14 164.76,110.45 161.25,107.21 166.00,106.64" fill="#c2c120"/>
<polygon points="77.00,89.00 78.97,93.28 83.66,93.84 80.20,97.04 81.11,101.66 77.00,99.36 72.89,101.66 73.80,97.04 70.34,93.84 75.03,93.28" fill="#c2c120"/>
</g></svg>
<text x="139.2" y="38.7" class="b">RF1</text>
<text x="118.7" y="43.5" class="b">RF2</text>
<text x="106.5" y="58.8" class="b">RF3</text>
<text x="83.8" y="96.6" class="b">RF4</text>
<text x="60.8" y="144.5" class="b">RF5</text>
<text x="108.6" y="150.2" class="b">RF6</text>
<text x="132.7" y="160.1" class="b">RF7</text>
<text x="192.3" y="166.9" class="b">RF8</text>
<text x="207.7" y="153.4" class="b">RF9</text>
<text x="274.6" y="146.6" class="b">RF10</text>
<text x="235.2" y="79.0" class="b">RF11</text>
<text x="223.1" y="55.2" class="b">RF12</text>
<svg x="374.0" y="3.1" width="267.0" height="222.5" overflow="hidden"><g transform="translate(-374.0,-3.1)">
<path fill="#0000ff" d="M487,3h2v2h-2zM493,5h2v2h-2zM492,7h2v2h-2zM491,10h2v2h-2zM488,13h2v2h-2zM497,16h2v2h-2zM498,18h2v2h-2zM493,41h2v2h-2zM495,40h2v2h-2zM498,42h2v2h-2zM491,43h2v2h-2zM492,45h2v2h-2zM499,45h2v2h-2zM500,47h2v2h-2zM493,48h2v2h-2zM497,49h2v2h-2zM501,50h2v2h-2zM491,50h2v2h-2zM494,47h2v2h-2zM431,100h2v2h-2zM416,104h2v2h-2zM424,109h2v2h-2zM429,109h2v2h-2zM434,113h2v2h-2zM436,107h2v2h-2zM438,107h2v2h-2zM432,100h2v2h-2zM421,105h2v2h-2zM414,99h2v2h-2zM436,108h2v2h-2zM425,100h2v2h-2zM417,106h2v2h-2zM428,108h2v2h-2zM427,105h2v2h-2zM418,107h2v2h-2zM420,98h2v2h-2zM424,107h2v2h-2zM422,94h2v2h-2zM437,105h2v2h-2zM426,103h2v2h-2zM422,105h2v2h-2zM437,111h2v2h-2zM420,94h2v2h-2zM421,101h2v2h-2zM425,105h2v2h-2zM441,112h2v2h-2zM440,110h2v2h-2zM414,90h2v2h-2zM430,110h2v2h-2zM432,113h2v2h-2zM436,111h2v2h-2zM417,107h2v2h-2zM428,109h2v2h-2zM418,90h2v2h-2zM427,101h2v2h-2zM432,112h2v2h-2zM423,99h2v2h-2zM431,105h2v2h-2zM433,114h2v2h-2zM434,105h2v2h-2zM423,100h2v2h-2zM418,99h2v2h-2zM425,103h2v2h-2zM432,110h2v2h-2zM422,96h2v2h-2zM421,104h2v2h-2zM431,110h2v2h-2zM413,95h2v2h-2zM433,104h2v2h-2zM417,87h2v2h-2zM436,114h2v2h-2zM437,110h2v2h-2zM421,99h2v2h-2zM412,90h2v2h-2zM437,104h2v2h-2zM434,112h2v2h-2zM431,108h2v2h-2zM421,108h2v2h-2zM423,103h2v2h-2zM425,107h2v2h-2zM423,106h2v2h-2zM423,110h2v2h-2zM441,110h2v2h-2zM434,111h2v2h-2zM422,104h2v2h-2zM442,111h2v2h-2zM423,107h2v2h-2zM425,104h2v2h-2zM437,113h2v2h-2zM437,112h2v2h-2zM438,111h2v2h-2zM429,110h2v2h-2zM430,107h2v2h-2zM419,109h2v2h-2zM426,104h2v2h-2zM417,92h2v2h-2zM424,102h2v2h-2zM416,87h2v2h-2zM441,109h2v2h-2zM437,115h2v2h-2zM419,103h2v2h-2zM442,116h2v2h-2zM419,97h2v2h-2zM440,113h2v2h-2zM413,90h2v2h-2zM435,115h2v2h-2zM430,109h2v2h-2zM414,96h2v2h-2zM419,90h2v2h-2zM439,113h2v2h-2zM415,100h2v2h-2zM438,105h2v2h-2zM425,96h2v2h-2zM418,88h2v2h-2zM434,103h2v2h-2zM420,99h2v2h-2zM416,94h2v2h-2zM416,101h2v2h-2zM419,92h2v2h-2zM443,114h2v2h-2zM414,95h2v2h-2zM417,99h2v2h-2zM414,89h2v2h-2zM430,101h2v2h-2zM420,92h2v2h-2zM417,88h2v2h-2zM438,112h2v2h-2zM423,104h2v2h-2zM425,102h2v2h-2zM423,109h2v2h-2zM427,102h2v2h-2zM417,89h2v2h-2zM412,89h2v2h-2zM429,102h2v2h-2zM439,108h2v2h-2zM420,90h2v2h-2zM430,112h2v2h-2zM416,103h2v2h-2zM437,114h2v2h-2zM419,96h2v2h-2zM442,114h2v2h-2zM419,99h2v2h-2zM425,101h2v2h-2zM442,110h2v2h-2zM428,99h2v2h-2zM421,106h2v2h-2zM415,104h2v2h-2zM420,100h2v2h-2zM415,90h2v2h-2zM420,93h2v2h-2zM429,106h2v2h-2zM421,93h2v2h-2zM418,102h2v2h-2zM429,101h2v2h-2zM420,109h2v2h-2zM416,88h2v2h-2zM413,98h2v2h-2zM425,108h2v2h-2zM414,93h2v2h-2zM442,108h2v2h-2zM416,96h2v2h-2zM422,107h2v2h-2zM431,112h2v2h-2zM435,109h2v2h-2zM436,104h2v2h-2zM429,99h2v2h-2zM436,113h2v2h-2zM424,103h2v2h-2zM423,96h2v2h-2zM436,112h2v2h-2zM427,100h2v2h-2zM417,95h2v2h-2zM440,109h2v2h-2zM428,102h2v2h-2zM433,102h2v2h-2zM414,97h2v2h-2zM428,111h2v2h-2zM440,107h2v2h-2zM437,116h2v2h-2zM416,95h2v2h-2zM431,104h2v2h-2zM424,110h2v2h-2zM421,107h2v2h-2zM438,104h2v2h-2zM427,103h2v2h-2zM420,106h2v2h-2zM415,91h2v2h-2zM414,91h2v2h-2zM431,111h2v2h-2zM425,98h2v2h-2zM419,98h2v2h-2zM427,110h2v2h-2zM419,91h2v2h-2zM428,98h2v2h-2zM414,94h2v2h-2zM425,111h2v2h-2zM422,108h2v2h-2zM423,94h2v2h-2zM386,118h2v2h-2zM391,117h2v2h-2zM394,114h2v2h-2zM397,114h2v2h-2zM398,110h2v2h-2zM400,107h2v2h-2zM402,110h2v2h-2zM403,111h2v2h-2zM405,109h2v2h-2zM401,115h2v2h-2zM404,116h2v2h-2zM407,118h2v2h-2zM408,104h2v2h-2zM410,107h2v2h-2zM411,108h2v2h-2zM413,109h2v2h-2zM438,99h2v2h-2zM418,109h2v2h-2zM417,111h2v2h-2zM417,119h2v2h-2zM384,139h2v2h-2zM387,132h2v2h-2zM381,137h2v2h-2zM379,147h2v2h-2zM382,141h2v2h-2zM376,148h2v2h-2zM382,139h2v2h-2zM379,140h2v2h-2zM380,140h2v2h-2zM377,148h2v2h-2zM380,142h2v2h-2zM398,124h2v2h-2zM398,125h2v2h-2zM375,146h2v2h-2zM375,150h2v2h-2zM390,130h2v2h-2zM385,139h2v2h-2zM390,128h2v2h-2zM394,124h2v2h-2zM388,130h2v2h-2zM378,149h2v2h-2zM393,129h2v2h-2zM372,148h2v2h-2zM376,144h2v2h-2zM380,141h2v2h-2zM373,149h2v2h-2zM395,125h2v2h-2zM390,127h2v2h-2zM385,138h2v2h-2zM380,138h2v2h-2zM396,126h2v2h-2zM378,140h2v2h-2zM396,125h2v2h-2zM373,148h2v2h-2zM380,146h2v2h-2zM390,126h2v2h-2zM391,129h2v2h-2zM394,129h2v2h-2zM397,121h2v2h-2zM398,123h2v2h-2zM389,131h2v2h-2zM384,137h2v2h-2zM395,120h2v2h-2zM391,125h2v2h-2zM393,130h2v2h-2zM387,126h2v2h-2zM393,134h2v2h-2zM438,152h2v2h-2zM388,120h2v2h-2zM391,120h2v2h-2zM400,123h2v2h-2zM375,142h2v2h-2zM376,145h2v2h-2zM374,147h2v2h-2zM381,132h2v2h-2zM384,134h2v2h-2zM379,137h2v2h-2zM377,219h2v2h-2zM381,210h2v2h-2zM386,202h2v2h-2zM449,206h2v2h-2zM456,201h2v2h-2zM458,192h2v2h-2zM466,180h2v2h-2zM493,56h2v2h-2zM496,47h2v2h-2zM491,51h2v2h-2zM495,46h2v2h-2zM494,44h2v2h-2zM498,60h2v2h-2zM493,47h2v2h-2zM496,53h2v2h-2zM494,66h2v2h-2zM492,56h2v2h-2zM494,64h2v2h-2zM496,62h2v2h-2zM492,59h2v2h-2zM497,53h2v2h-2zM498,64h2v2h-2zM492,49h2v2h-2zM494,46h2v2h-2zM491,48h2v2h-2zM493,60h2v2h-2zM495,43h2v2h-2zM494,54h2v2h-2zM494,45h2v2h-2zM492,54h2v2h-2zM496,40h2v2h-2zM500,59h2v2h-2zM497,67h2v2h-2zM497,47h2v2h-2zM493,44h2v2h-2zM499,49h2v2h-2zM493,65h2v2h-2zM500,68h2v2h-2zM493,66h2v2h-2zM500,66h2v2h-2zM495,59h2v2h-2zM500,61h2v2h-2zM495,64h2v2h-2zM495,67h2v2h-2zM494,58h2v2h-2zM497,65h2v2h-2zM500,65h2v2h-2zM501,68h2v2h-2zM497,63h2v2h-2zM493,61h2v2h-2zM497,58h2v2h-2zM499,59h2v2h-2zM496,69h2v2h-2zM496,59h2v2h-2zM499,57h2v2h-2zM500,67h2v2h-2zM500,62h2v2h-2zM494,65h2v2h-2zM497,62h2v2h-2zM495,62h2v2h-2zM498,67h2v2h-2zM483,60h2v2h-2zM472,63h2v2h-2zM477,62h2v2h-2zM473,63h2v2h-2zM482,69h2v2h-2zM484,65h2v2h-2zM481,59h2v2h-2zM479,65h2v2h-2zM472,64h2v2h-2zM484,63h2v2h-2zM478,61h2v2h-2zM473,68h2v2h-2zM479,63h2v2h-2zM469,65h2v2h-2zM474,65h2v2h-2zM474,64h2v2h-2zM477,63h2v2h-2zM483,64h2v2h-2zM469,68h2v2h-2zM476,61h2v2h-2zM484,59h2v2h-2zM482,58h2v2h-2zM491,46h2v2h-2zM498,43h2v2h-2zM502,51h2v2h-2zM485,67h2v2h-2zM488,68h2v2h-2zM493,86h2v2h-2zM495,71h2v2h-2zM491,71h2v2h-2zM492,95h2v2h-2zM494,90h2v2h-2zM498,72h2v2h-2zM503,91h2v2h-2zM491,74h2v2h-2zM502,86h2v2h-2zM498,73h2v2h-2zM498,71h2v2h-2zM488,80h2v2h-2zM487,78h2v2h-2zM497,82h2v2h-2zM501,88h2v2h-2zM500,86h2v2h-2zM501,95h2v2h-2zM490,92h2v2h-2zM497,94h2v2h-2zM485,80h2v2h-2zM498,97h2v2h-2zM497,70h2v2h-2zM495,72h2v2h-2zM494,93h2v2h-2zM496,77h2v2h-2zM487,82h2v2h-2zM485,70h2v2h-2zM489,90h2v2h-2zM490,73h2v2h-2zM500,85h2v2h-2zM497,93h2v2h-2zM502,69h2v2h-2zM490,74h2v2h-2zM493,95h2v2h-2zM499,70h2v2h-2zM497,81h2v2h-2zM492,74h2v2h-2zM500,81h2v2h-2zM500,87h2v2h-2zM484,79h2v2h-2zM487,96h2v2h-2zM495,70h2v2h-2zM486,80h2v2h-2zM492,86h2v2h-2zM491,80h2v2h-2zM490,70h2v2h-2zM492,99h2v2h-2zM484,73h2v2h-2zM488,84h2v2h-2zM493,98h2v2h-2zM503,70h2v2h-2zM494,92h2v2h-2zM500,92h2v2h-2zM496,88h2v2h-2zM490,77h2v2h-2zM499,95h2v2h-2zM502,89h2v2h-2zM489,92h2v2h-2zM498,84h2v2h-2zM496,80h2v2h-2zM494,81h2v2h-2zM489,99h2v2h-2zM493,80h2v2h-2zM488,76h2v2h-2zM492,82h2v2h-2zM494,78h2v2h-2zM486,71h2v2h-2zM489,78h2v2h-2zM497,86h2v2h-2zM502,79h2v2h-2zM501,87h2v2h-2zM484,74h2v2h-2zM495,99h2v2h-2zM491,95h2v2h-2zM501,77h2v2h-2zM488,70h2v2h-2zM486,77h2v2h-2zM497,76h2v2h-2zM491,75h2v2h-2zM495,95h2v2h-2zM496,75h2v2h-2zM498,98h2v2h-2zM500,88h2v2h-2zM501,75h2v2h-2zM489,91h2v2h-2zM496,81h2v2h-2zM497,79h2v2h-2zM490,84h2v2h-2zM495,77h2v2h-2zM492,69h2v2h-2zM501,86h2v2h-2zM503,71h2v2h-2zM495,91h2v2h-2zM489,72h2v2h-2zM486,73h2v2h-2zM499,82h2v2h-2zM494,87h2v2h-2zM494,89h2v2h-2zM495,79h2v2h-2zM498,77h2v2h-2zM497,92h2v2h-2zM498,78h2v2h-2zM492,77h2v2h-2zM493,97h2v2h-2zM485,69h2v2h-2zM492,89h2v2h-2zM498,80h2v2h-2zM503,76h2v2h-2zM483,73h2v2h-2zM494,74h2v2h-2zM502,80h2v2h-2zM486,74h2v2h-2zM486,70h2v2h-2zM499,76h2v2h-2zM503,84h2v2h-2zM496,79h2v2h-2zM499,83h2v2h-2zM489,96h2v2h-2zM491,97h2v2h-2zM502,88h2v2h-2zM487,77h2v2h-2zM488,82h2v2h-2zM487,75h2v2h-2zM498,88h2v2h-2zM500,77h2v2h-2zM498,94h2v2h-2zM488,79h2v2h-2zM493,96h2v2h-2zM495,83h2v2h-2zM494,95h2v2h-2zM500,74h2v2h-2zM500,99h2v2h-2zM489,70h2v2h-2zM485,74h2v2h-2zM497,72h2v2h-2zM490,97h2v2h-2zM497,95h2v2h-2zM488,93h2v2h-2zM493,76h2v2h-2zM491,72h2v2h-2zM489,95h2v2h-2zM493,72h2v2h-2zM501,79h2v2h-2zM487,98h2v2h-2zM501,91h2v2h-2zM488,74h2v2h-2zM488,71h2v2h-2zM491,86h2v2h-2zM490,69h2v2h-2zM497,89h2v2h-2zM494,85h2v2h-2zM497,98h2v2h-2zM500,91h2v2h-2zM491,79h2v2h-2zM491,98h2v2h-2zM491,81h2v2h-2zM491,73h2v2h-2zM503,69h2v2h-2zM495,97h2v2h-2zM490,76h2v2h-2zM487,72h2v2h-2zM500,93h2v2h-2zM501,70h2v2h-2zM496,85h2v2h-2zM489,98h2v2h-2zM500,84h2v2h-2zM493,87h2v2h-2zM482,85h2v2h-2zM474,87h2v2h-2zM475,96h2v2h-2zM479,91h2v2h-2zM480,83h2v2h-2zM474,73h2v2h-2zM487,85h2v2h-2zM480,85h2v2h-2zM473,94h2v2h-2zM478,88h2v2h-2zM485,96h2v2h-2zM477,94h2v2h-2zM485,85h2v2h-2zM478,72h2v2h-2zM477,99h2v2h-2zM483,82h2v2h-2zM479,93h2v2h-2zM483,80h2v2h-2zM480,76h2v2h-2zM477,79h2v2h-2zM477,70h2v2h-2zM476,76h2v2h-2zM482,95h2v2h-2zM485,88h2v2h-2zM478,80h2v2h-2zM483,78h2v2h-2zM477,88h2v2h-2zM477,86h2v2h-2zM477,89h2v2h-2zM476,71h2v2h-2zM484,80h2v2h-2zM480,84h2v2h-2zM487,92h2v2h-2zM478,83h2v2h-2zM479,96h2v2h-2zM478,84h2v2h-2zM479,94h2v2h-2zM482,91h2v2h-2zM483,86h2v2h-2zM484,92h2v2h-2zM471,94h2v2h-2zM471,72h2v2h-2zM484,86h2v2h-2zM483,83h2v2h-2zM478,87h2v2h-2zM476,85h2v2h-2zM475,77h2v2h-2zM476,77h2v2h-2zM447,98h2v2h-2zM450,99h2v2h-2zM454,98h2v2h-2zM457,99h2v2h-2zM498,111h2v2h-2zM485,108h2v2h-2zM498,116h2v2h-2zM498,105h2v2h-2zM474,100h2v2h-2zM486,107h2v2h-2zM484,110h2v2h-2zM488,107h2v2h-2zM496,103h2v2h-2zM500,111h2v2h-2zM486,108h2v2h-2zM487,106h2v2h-2zM496,112h2v2h-2zM490,100h2v2h-2zM498,101h2v2h-2zM489,103h2v2h-2zM496,110h2v2h-2zM491,114h2v2h-2zM478,104h2v2h-2zM497,102h2v2h-2zM500,103h2v2h-2zM471,101h2v2h-2zM495,120h2v2h-2zM492,102h2v2h-2zM488,106h2v2h-2zM487,102h2v2h-2zM500,106h2v2h-2zM481,100h2v2h-2zM493,108h2v2h-2zM491,101h2v2h-2zM501,110h2v2h-2zM478,107h2v2h-2zM494,110h2v2h-2zM500,101h2v2h-2zM489,111h2v2h-2zM470,102h2v2h-2zM497,104h2v2h-2zM500,100h2v2h-2zM491,100h2v2h-2zM479,109h2v2h-2zM478,101h2v2h-2zM487,101h2v2h-2zM488,109h2v2h-2zM480,107h2v2h-2zM491,103h2v2h-2zM498,109h2v2h-2zM472,101h2v2h-2zM499,102h2v2h-2zM485,111h2v2h-2zM485,107h2v2h-2zM474,102h2v2h-2zM488,114h2v2h-2zM473,105h2v2h-2zM486,105h2v2h-2zM499,101h2v2h-2zM488,104h2v2h-2zM488,116h2v2h-2zM493,100h2v2h-2zM502,100h2v2h-2zM489,114h2v2h-2zM496,106h2v2h-2zM459,116h2v2h-2zM461,115h2v2h-2zM451,111h2v2h-2zM448,120h2v2h-2zM456,112h2v2h-2zM450,112h2v2h-2zM447,113h2v2h-2zM452,116h2v2h-2zM458,122h2v2h-2zM457,118h2v2h-2zM447,118h2v2h-2zM445,119h2v2h-2zM457,112h2v2h-2zM454,116h2v2h-2zM459,120h2v2h-2zM460,114h2v2h-2zM448,121h2v2h-2zM447,112h2v2h-2zM452,113h2v2h-2zM452,122h2v2h-2zM456,119h2v2h-2zM451,120h2v2h-2zM458,119h2v2h-2zM456,121h2v2h-2zM450,118h2v2h-2zM443,116h2v2h-2zM443,111h2v2h-2zM459,115h2v2h-2zM450,101h2v2h-2zM453,103h2v2h-2zM455,100h2v2h-2zM457,104h2v2h-2zM459,100h2v2h-2zM461,101h2v2h-2zM463,103h2v2h-2zM466,101h2v2h-2zM464,106h2v2h-2zM456,105h2v2h-2zM460,104h2v2h-2zM462,100h2v2h-2zM445,104h2v2h-2zM443,100h2v2h-2zM448,100h2v2h-2zM453,100h2v2h-2zM466,104h2v2h-2zM465,109h2v2h-2zM472,121h2v2h-2zM476,119h2v2h-2zM478,118h2v2h-2zM473,124h2v2h-2zM477,122h2v2h-2zM483,115h2v2h-2zM494,118h2v2h-2zM496,120h2v2h-2zM492,116h2v2h-2zM490,126h2v2h-2zM477,129h2v2h-2zM444,112h2v2h-2zM454,124h2v2h-2zM478,129h2v2h-2zM484,130h2v2h-2zM464,137h2v2h-2zM459,140h2v2h-2zM456,144h2v2h-2zM453,148h2v2h-2zM453,149h2v2h-2zM445,151h2v2h-2zM492,144h2v2h-2zM495,145h2v2h-2zM497,143h2v2h-2zM498,145h2v2h-2zM499,147h2v2h-2zM497,149h2v2h-2zM498,152h2v2h-2zM491,151h2v2h-2zM496,157h2v2h-2zM498,157h2v2h-2zM502,138h2v2h-2zM502,157h2v2h-2zM489,161h2v2h-2zM482,165h2v2h-2zM493,163h2v2h-2zM494,164h2v2h-2zM492,166h2v2h-2zM499,164h2v2h-2zM501,166h2v2h-2zM491,170h2v2h-2zM496,171h2v2h-2zM488,176h2v2h-2zM489,175h2v2h-2zM490,177h2v2h-2zM492,178h2v2h-2zM483,177h2v2h-2zM466,179h2v2h-2zM502,160h2v2h-2zM531,192h2v2h-2zM539,201h2v2h-2zM541,204h2v2h-2zM550,218h2v2h-2zM555,223h2v2h-2zM504,55h2v2h-2zM503,60h2v2h-2zM517,61h2v2h-2zM519,61h2v2h-2zM521,62h2v2h-2zM522,63h2v2h-2zM523,64h2v2h-2zM524,66h2v2h-2zM518,64h2v2h-2zM519,65h2v2h-2zM520,66h2v2h-2zM516,67h2v2h-2zM517,68h2v2h-2zM525,57h2v2h-2zM526,59h2v2h-2zM529,60h2v2h-2zM522,60h2v2h-2zM520,63h2v2h-2zM552,69h2v2h-2zM555,67h2v2h-2zM554,103h2v2h-2zM556,101h2v2h-2zM558,106h2v2h-2zM555,112h2v2h-2zM557,113h2v2h-2zM560,112h2v2h-2zM561,109h2v2h-2zM552,115h2v2h-2zM551,116h2v2h-2zM542,122h2v2h-2zM528,119h2v2h-2zM529,127h2v2h-2zM543,120h2v2h-2zM515,119h2v2h-2zM547,122h2v2h-2zM545,126h2v2h-2zM517,125h2v2h-2zM512,127h2v2h-2zM520,119h2v2h-2zM522,128h2v2h-2zM542,128h2v2h-2zM531,122h2v2h-2zM561,123h2v2h-2zM519,128h2v2h-2zM534,126h2v2h-2zM523,120h2v2h-2zM516,123h2v2h-2zM556,123h2v2h-2zM530,128h2v2h-2zM557,125h2v2h-2zM514,124h2v2h-2zM534,128h2v2h-2zM529,125h2v2h-2zM544,121h2v2h-2zM538,125h2v2h-2zM558,122h2v2h-2zM529,129h2v2h-2zM513,127h2v2h-2zM546,123h2v2h-2zM527,118h2v2h-2zM561,128h2v2h-2zM518,124h2v2h-2zM531,126h2v2h-2zM544,120h2v2h-2zM550,120h2v2h-2zM539,121h2v2h-2zM562,124h2v2h-2zM553,125h2v2h-2zM530,129h2v2h-2zM548,125h2v2h-2zM525,118h2v2h-2zM541,127h2v2h-2zM552,120h2v2h-2zM518,123h2v2h-2zM527,117h2v2h-2zM526,121h2v2h-2zM561,129h2v2h-2zM520,120h2v2h-2zM527,122h2v2h-2zM516,119h2v2h-2zM531,121h2v2h-2zM521,128h2v2h-2zM534,127h2v2h-2zM544,126h2v2h-2zM550,122h2v2h-2zM540,125h2v2h-2zM550,119h2v2h-2zM529,128h2v2h-2zM538,120h2v2h-2zM543,119h2v2h-2zM554,123h2v2h-2zM524,119h2v2h-2zM514,123h2v2h-2zM550,125h2v2h-2zM532,126h2v2h-2zM516,120h2v2h-2zM544,129h2v2h-2zM544,125h2v2h-2zM551,121h2v2h-2zM560,126h2v2h-2zM528,121h2v2h-2zM553,120h2v2h-2zM520,127h2v2h-2zM538,123h2v2h-2zM546,128h2v2h-2zM517,120h2v2h-2zM514,121h2v2h-2zM537,127h2v2h-2zM545,123h2v2h-2zM532,123h2v2h-2zM525,127h2v2h-2zM552,127h2v2h-2zM518,125h2v2h-2zM558,128h2v2h-2zM510,126h2v2h-2zM509,127h2v2h-2zM504,124h2v2h-2zM510,122h2v2h-2zM506,112h2v2h-2zM509,126h2v2h-2zM506,115h2v2h-2zM505,113h2v2h-2zM510,129h2v2h-2zM511,118h2v2h-2zM510,112h2v2h-2zM503,122h2v2h-2zM504,116h2v2h-2zM504,119h2v2h-2zM508,126h2v2h-2zM503,126h2v2h-2zM504,115h2v2h-2zM509,117h2v2h-2zM506,121h2v2h-2zM505,125h2v2h-2zM515,134h2v2h-2zM528,132h2v2h-2zM519,129h2v2h-2zM524,133h2v2h-2zM523,131h2v2h-2zM521,133h2v2h-2zM531,131h2v2h-2zM532,129h2v2h-2zM521,130h2v2h-2zM520,133h2v2h-2zM526,132h2v2h-2zM518,130h2v2h-2zM519,131h2v2h-2zM514,133h2v2h-2zM521,132h2v2h-2zM515,133h2v2h-2zM514,131h2v2h-2zM522,133h2v2h-2zM526,133h2v2h-2zM512,130h2v2h-2zM516,131h2v2h-2zM511,130h2v2h-2zM518,134h2v2h-2zM514,134h2v2h-2zM530,134h2v2h-2zM521,134h2v2h-2zM513,130h2v2h-2zM522,132h2v2h-2zM515,131h2v2h-2zM510,140h2v2h-2zM519,151h2v2h-2zM526,152h2v2h-2zM523,148h2v2h-2zM521,152h2v2h-2zM517,137h2v2h-2zM515,141h2v2h-2zM521,140h2v2h-2zM522,152h2v2h-2zM522,142h2v2h-2zM524,151h2v2h-2zM515,138h2v2h-2zM518,149h2v2h-2zM518,146h2v2h-2zM517,139h2v2h-2zM525,150h2v2h-2zM513,140h2v2h-2zM516,138h2v2h-2zM518,145h2v2h-2zM520,148h2v2h-2zM521,142h2v2h-2zM525,146h2v2h-2zM520,144h2v2h-2zM520,149h2v2h-2zM515,142h2v2h-2zM522,148h2v2h-2zM512,142h2v2h-2zM523,144h2v2h-2zM513,144h2v2h-2zM516,140h2v2h-2zM505,137h2v2h-2zM507,134h2v2h-2zM508,133h2v2h-2zM505,146h2v2h-2zM504,156h2v2h-2zM533,131h2v2h-2zM536,133h2v2h-2zM538,131h2v2h-2zM542,131h2v2h-2zM543,133h2v2h-2zM537,134h2v2h-2zM539,134h2v2h-2zM551,130h2v2h-2zM554,131h2v2h-2zM528,151h2v2h-2zM527,152h2v2h-2zM525,149h2v2h-2zM522,147h2v2h-2zM509,140h2v2h-2zM508,142h2v2h-2zM565,76h2v2h-2zM566,77h2v2h-2zM568,79h2v2h-2zM564,79h2v2h-2zM565,81h2v2h-2zM567,80h2v2h-2zM563,84h2v2h-2zM565,86h2v2h-2zM568,87h2v2h-2zM569,89h2v2h-2zM572,88h2v2h-2zM575,89h2v2h-2zM578,88h2v2h-2zM581,87h2v2h-2zM583,89h2v2h-2zM584,88h2v2h-2zM585,85h2v2h-2zM586,87h2v2h-2zM587,89h2v2h-2zM589,87h2v2h-2zM592,86h2v2h-2zM580,89h2v2h-2zM577,89h2v2h-2zM571,99h2v2h-2zM597,92h2v2h-2zM591,89h2v2h-2zM570,102h2v2h-2zM569,96h2v2h-2zM567,101h2v2h-2zM581,98h2v2h-2zM583,92h2v2h-2zM578,87h2v2h-2zM590,87h2v2h-2zM587,91h2v2h-2zM579,89h2v2h-2zM576,89h2v2h-2zM594,89h2v2h-2zM576,93h2v2h-2zM591,90h2v2h-2zM591,87h2v2h-2zM582,95h2v2h-2zM578,98h2v2h-2zM589,88h2v2h-2zM579,103h2v2h-2zM579,100h2v2h-2zM572,93h2v2h-2zM566,95h2v2h-2zM591,92h2v2h-2zM572,95h2v2h-2zM564,91h2v2h-2zM575,101h2v2h-2zM567,102h2v2h-2zM574,98h2v2h-2zM576,97h2v2h-2zM578,104h2v2h-2zM566,91h2v2h-2zM574,104h2v2h-2zM563,92h2v2h-2zM569,95h2v2h-2zM572,92h2v2h-2zM564,100h2v2h-2zM571,92h2v2h-2zM574,88h2v2h-2zM576,90h2v2h-2zM567,96h2v2h-2zM573,101h2v2h-2zM590,117h2v2h-2zM598,116h2v2h-2zM594,115h2v2h-2zM595,122h2v2h-2zM597,114h2v2h-2zM589,119h2v2h-2zM573,125h2v2h-2zM580,121h2v2h-2zM577,122h2v2h-2zM592,114h2v2h-2zM589,118h2v2h-2zM596,112h2v2h-2zM589,123h2v2h-2zM583,121h2v2h-2zM598,119h2v2h-2zM592,119h2v2h-2zM596,125h2v2h-2zM595,113h2v2h-2zM596,114h2v2h-2zM597,118h2v2h-2zM588,120h2v2h-2zM574,111h2v2h-2zM575,108h2v2h-2zM600,117h2v2h-2zM598,118h2v2h-2zM595,111h2v2h-2zM612,130h2v2h-2zM608,126h2v2h-2zM575,129h2v2h-2zM574,122h2v2h-2zM586,124h2v2h-2zM584,130h2v2h-2zM575,127h2v2h-2zM595,124h2v2h-2zM580,127h2v2h-2zM581,130h2v2h-2zM564,126h2v2h-2zM563,129h2v2h-2zM576,127h2v2h-2zM592,130h2v2h-2zM570,125h2v2h-2zM571,124h2v2h-2zM590,129h2v2h-2zM575,124h2v2h-2zM593,127h2v2h-2zM597,132h2v2h-2zM578,125h2v2h-2zM613,132h2v2h-2zM585,128h2v2h-2zM607,131h2v2h-2zM597,128h2v2h-2zM569,125h2v2h-2zM597,129h2v2h-2zM605,132h2v2h-2zM593,124h2v2h-2zM599,125h2v2h-2zM575,126h2v2h-2zM590,130h2v2h-2zM595,127h2v2h-2zM598,131h2v2h-2zM563,127h2v2h-2zM598,130h2v2h-2zM597,124h2v2h-2zM613,131h2v2h-2zM601,126h2v2h-2zM597,131h2v2h-2zM574,125h2v2h-2zM565,124h2v2h-2zM584,127h2v2h-2zM567,129h2v2h-2zM612,129h2v2h-2zM588,122h2v2h-2zM598,124h2v2h-2zM603,132h2v2h-2zM596,129h2v2h-2zM600,133h2v2h-2zM579,125h2v2h-2zM606,129h2v2h-2zM607,132h2v2h-2zM594,124h2v2h-2zM564,128h2v2h-2zM601,125h2v2h-2zM572,130h2v2h-2zM563,125h2v2h-2zM577,130h2v2h-2zM580,128h2v2h-2zM588,125h2v2h-2zM571,123h2v2h-2zM595,130h2v2h-2zM589,124h2v2h-2zM611,128h2v2h-2zM566,124h2v2h-2zM599,126h2v2h-2zM600,125h2v2h-2zM604,131h2v2h-2zM568,129h2v2h-2zM573,130h2v2h-2zM605,131h2v2h-2zM575,123h2v2h-2zM570,124h2v2h-2zM593,123h2v2h-2zM591,130h2v2h-2zM596,130h2v2h-2zM595,132h2v2h-2zM574,126h2v2h-2zM597,125h2v2h-2zM571,125h2v2h-2zM603,131h2v2h-2zM604,126h2v2h-2zM579,130h2v2h-2zM566,129h2v2h-2zM590,124h2v2h-2zM611,132h2v2h-2zM587,124h2v2h-2zM569,128h2v2h-2zM590,126h2v2h-2zM600,128h2v2h-2zM567,126h2v2h-2zM598,125h2v2h-2zM600,131h2v2h-2zM582,127h2v2h-2zM611,133h2v2h-2zM595,123h2v2h-2zM572,133h2v2h-2zM581,134h2v2h-2zM594,133h2v2h-2zM600,124h2v2h-2zM612,128h2v2h-2zM520,73h2v2h-2zM510,84h2v2h-2zM521,65h2v2h-2zM517,82h2v2h-2zM511,78h2v2h-2zM518,70h2v2h-2zM517,72h2v2h-2zM519,63h2v2h-2zM518,67h2v2h-2zM519,74h2v2h-2zM515,86h2v2h-2zM520,74h2v2h-2zM515,76h2v2h-2zM514,86h2v2h-2zM513,86h2v2h-2zM516,84h2v2h-2zM512,82h2v2h-2zM510,85h2v2h-2zM513,84h2v2h-2zM521,60h2v2h-2zM511,80h2v2h-2zM515,77h2v2h-2zM515,84h2v2h-2zM516,74h2v2h-2zM516,65h2v2h-2zM522,65h2v2h-2zM523,65h2v2h-2zM515,68h2v2h-2zM522,64h2v2h-2zM516,73h2v2h-2zM511,76h2v2h-2zM517,63h2v2h-2zM520,71h2v2h-2zM520,61h2v2h-2zM524,58h2v2h-2zM520,64h2v2h-2zM516,78h2v2h-2zM517,64h2v2h-2zM520,72h2v2h-2zM523,66h2v2h-2zM522,61h2v2h-2zM515,78h2v2h-2zM515,79h2v2h-2zM511,83h2v2h-2zM531,72h2v2h-2zM527,81h2v2h-2zM527,85h2v2h-2zM528,76h2v2h-2zM527,79h2v2h-2zM530,74h2v2h-2zM529,77h2v2h-2zM531,73h2v2h-2zM529,75h2v2h-2zM525,86h2v2h-2zM529,76h2v2h-2zM528,82h2v2h-2zM527,83h2v2h-2zM532,73h2v2h-2zM525,83h2v2h-2zM531,81h2v2h-2zM530,82h2v2h-2zM533,74h2v2h-2zM528,77h2v2h-2zM540,87h2v2h-2zM539,86h2v2h-2zM535,85h2v2h-2zM543,76h2v2h-2zM547,73h2v2h-2zM541,83h2v2h-2zM540,81h2v2h-2zM547,72h2v2h-2zM547,74h2v2h-2zM537,84h2v2h-2zM546,79h2v2h-2zM540,80h2v2h-2zM547,78h2v2h-2zM541,85h2v2h-2zM535,87h2v2h-2zM538,84h2v2h-2zM538,79h2v2h-2zM539,83h2v2h-2zM538,80h2v2h-2zM546,76h2v2h-2zM552,70h2v2h-2zM539,82h2v2h-2zM541,77h2v2h-2zM545,74h2v2h-2zM545,78h2v2h-2zM541,84h2v2h-2zM537,85h2v2h-2zM547,79h2v2h-2zM545,75h2v2h-2zM540,84h2v2h-2zM538,83h2v2h-2zM563,85h2v2h-2zM562,84h2v2h-2zM571,83h2v2h-2zM567,81h2v2h-2zM567,78h2v2h-2zM564,82h2v2h-2zM567,82h2v2h-2zM566,84h2v2h-2zM565,84h2v2h-2zM562,80h2v2h-2zM571,85h2v2h-2zM571,87h2v2h-2zM568,78h2v2h-2zM508,79h2v2h-2zM528,61h2v2h-2zM517,60h2v2h-2zM538,74h2v2h-2zM550,84h2v2h-2zM540,67h2v2h-2zM507,84h2v2h-2zM519,84h2v2h-2zM521,82h2v2h-2zM536,84h2v2h-2zM546,86h2v2h-2zM552,80h2v2h-2zM525,87h2v2h-2zM525,94h2v2h-2zM506,101h2v2h-2zM516,99h2v2h-2zM522,94h2v2h-2zM525,88h2v2h-2zM526,90h2v2h-2zM507,90h2v2h-2zM507,85h2v2h-2zM520,86h2v2h-2zM510,89h2v2h-2zM512,101h2v2h-2zM524,89h2v2h-2zM522,88h2v2h-2zM508,101h2v2h-2zM518,95h2v2h-2zM522,93h2v2h-2zM524,92h2v2h-2zM510,102h2v2h-2zM512,98h2v2h-2zM525,89h2v2h-2zM522,91h2v2h-2zM511,88h2v2h-2zM517,93h2v2h-2zM507,98h2v2h-2zM514,88h2v2h-2zM514,98h2v2h-2zM521,92h2v2h-2zM518,87h2v2h-2zM517,99h2v2h-2zM510,97h2v2h-2zM514,99h2v2h-2zM508,89h2v2h-2zM520,93h2v2h-2zM514,95h2v2h-2zM511,92h2v2h-2zM506,99h2v2h-2zM512,99h2v2h-2zM516,96h2v2h-2zM527,88h2v2h-2zM508,92h2v2h-2zM517,87h2v2h-2zM511,100h2v2h-2zM515,87h2v2h-2zM510,95h2v2h-2zM510,93h2v2h-2zM518,92h2v2h-2zM517,100h2v2h-2zM523,95h2v2h-2zM518,88h2v2h-2zM524,90h2v2h-2zM519,96h2v2h-2zM514,93h2v2h-2zM528,93h2v2h-2zM542,94h2v2h-2zM551,85h2v2h-2zM533,85h2v2h-2zM535,90h2v2h-2zM537,94h2v2h-2zM547,86h2v2h-2zM532,84h2v2h-2zM537,88h2v2h-2zM541,90h2v2h-2zM539,94h2v2h-2zM550,90h2v2h-2zM531,89h2v2h-2zM545,91h2v2h-2zM539,92h2v2h-2zM533,91h2v2h-2zM537,96h2v2h-2zM554,84h2v2h-2zM544,92h2v2h-2zM530,88h2v2h-2zM532,93h2v2h-2zM545,93h2v2h-2zM527,90h2v2h-2zM535,92h2v2h-2zM536,86h2v2h-2zM545,88h2v2h-2zM549,88h2v2h-2zM529,94h2v2h-2zM537,86h2v2h-2zM537,91h2v2h-2zM535,99h2v2h-2zM538,102h2v2h-2zM550,103h2v2h-2zM535,101h2v2h-2zM550,102h2v2h-2zM541,109h2v2h-2zM534,108h2v2h-2zM524,104h2v2h-2zM548,100h2v2h-2zM535,108h2v2h-2zM538,103h2v2h-2zM530,105h2v2h-2zM536,111h2v2h-2zM532,106h2v2h-2zM543,98h2v2h-2zM532,108h2v2h-2zM527,104h2v2h-2zM538,99h2v2h-2zM546,103h2v2h-2zM530,101h2v2h-2zM544,99h2v2h-2zM549,103h2v2h-2zM540,110h2v2h-2zM543,106h2v2h-2zM543,101h2v2h-2zM537,100h2v2h-2zM540,102h2v2h-2zM531,107h2v2h-2zM526,109h2v2h-2zM537,101h2v2h-2zM526,105h2v2h-2zM537,108h2v2h-2zM534,103h2v2h-2zM548,101h2v2h-2zM530,109h2v2h-2zM540,100h2v2h-2zM546,105h2v2h-2zM525,110h2v2h-2zM536,108h2v2h-2zM526,107h2v2h-2zM526,104h2v2h-2zM541,107h2v2h-2zM535,103h2v2h-2zM543,108h2v2h-2zM541,103h2v2h-2zM539,105h2v2h-2zM528,111h2v2h-2zM547,101h2v2h-2zM544,108h2v2h-2zM545,104h2v2h-2zM532,103h2v2h-2zM547,107h2v2h-2zM539,100h2v2h-2zM533,99h2v2h-2zM528,108h2v2h-2zM529,110h2v2h-2zM532,110h2v2h-2zM532,101h2v2h-2zM526,108h2v2h-2zM527,110h2v2h-2zM546,107h2v2h-2zM539,109h2v2h-2zM528,105h2v2h-2zM531,103h2v2h-2zM529,108h2v2h-2zM559,87h2v2h-2zM562,89h2v2h-2zM564,85h2v2h-2zM568,88h2v2h-2zM570,92h2v2h-2zM560,93h2v2h-2zM554,92h2v2h-2zM558,97h2v2h-2zM567,103h2v2h-2zM570,99h2v2h-2zM556,113h2v2h-2zM554,114h2v2h-2zM568,110h2v2h-2zM517,113h2v2h-2zM522,115h2v2h-2zM516,110h2v2h-2zM522,110h2v2h-2zM508,110h2v2h-2zM518,116h2v2h-2zM514,111h2v2h-2zM519,110h2v2h-2zM508,113h2v2h-2zM520,109h2v2h-2zM508,108h2v2h-2zM514,110h2v2h-2zM522,117h2v2h-2zM514,115h2v2h-2zM517,108h2v2h-2zM523,108h2v2h-2zM526,134h2v2h-2zM528,125h2v2h-2zM511,124h2v2h-2zM528,129h2v2h-2zM511,126h2v2h-2zM510,123h2v2h-2zM525,139h2v2h-2zM527,137h2v2h-2zM522,135h2v2h-2zM516,124h2v2h-2zM527,123h2v2h-2zM517,124h2v2h-2zM530,133h2v2h-2zM521,127h2v2h-2zM520,132h2v2h-2zM515,120h2v2h-2zM521,137h2v2h-2zM512,128h2v2h-2zM518,139h2v2h-2zM531,127h2v2h-2zM527,141h2v2h-2zM525,125h2v2h-2zM522,124h2v2h-2zM520,129h2v2h-2zM532,133h2v2h-2zM531,128h2v2h-2zM530,138h2v2h-2zM518,138h2v2h-2zM520,128h2v2h-2zM518,128h2v2h-2zM523,140h2v2h-2zM533,133h2v2h-2zM518,120h2v2h-2zM523,129h2v2h-2zM517,128h2v2h-2zM519,123h2v2h-2zM516,130h2v2h-2zM523,122h2v2h-2zM510,121h2v2h-2zM528,128h2v2h-2zM522,131h2v2h-2zM509,119h2v2h-2zM525,135h2v2h-2zM525,123h2v2h-2zM524,124h2v2h-2zM520,123h2v2h-2zM513,122h2v2h-2zM527,126h2v2h-2zM529,132h2v2h-2zM541,115h2v2h-2zM528,115h2v2h-2zM516,112h2v2h-2zM520,117h2v2h-2zM513,113h2v2h-2zM538,117h2v2h-2zM534,112h2v2h-2zM520,116h2v2h-2zM522,116h2v2h-2zM523,116h2v2h-2zM530,117h2v2h-2zM542,113h2v2h-2zM542,109h2v2h-2zM538,109h2v2h-2zM529,113h2v2h-2zM535,112h2v2h-2zM519,117h2v2h-2zM529,116h2v2h-2zM527,109h2v2h-2zM535,111h2v2h-2zM521,115h2v2h-2zM561,126h2v2h-2zM550,127h2v2h-2zM545,122h2v2h-2zM537,123h2v2h-2zM560,125h2v2h-2zM540,127h2v2h-2zM538,127h2v2h-2zM539,120h2v2h-2zM543,124h2v2h-2zM543,129h2v2h-2zM554,122h2v2h-2zM545,121h2v2h-2zM549,129h2v2h-2zM541,120h2v2h-2zM540,121h2v2h-2zM481,97h2v2h-2zM476,98h2v2h-2zM484,101h2v2h-2zM484,99h2v2h-2zM479,95h2v2h-2zM481,92h2v2h-2zM475,98h2v2h-2zM479,100h2v2h-2zM474,101h2v2h-2zM471,95h2v2h-2zM472,93h2v2h-2zM480,93h2v2h-2zM481,103h2v2h-2zM484,97h2v2h-2zM487,95h2v2h-2zM486,94h2v2h-2zM480,104h2v2h-2zM476,101h2v2h-2zM491,115h2v2h-2zM490,112h2v2h-2zM495,111h2v2h-2zM499,117h2v2h-2zM495,114h2v2h-2zM494,116h2v2h-2zM487,107h2v2h-2zM499,115h2v2h-2zM489,107h2v2h-2zM588,87h2v2h-2zM573,92h2v2h-2zM576,100h2v2h-2zM574,96h2v2h-2zM586,93h2v2h-2zM577,93h2v2h-2zM594,87h2v2h-2zM596,92h2v2h-2zM585,96h2v2h-2zM574,90h2v2h-2zM581,97h2v2h-2zM579,94h2v2h-2zM589,98h2v2h-2zM578,91h2v2h-2zM587,94h2v2h-2zM590,95h2v2h-2zM586,97h2v2h-2zM584,92h2v2h-2zM584,94h2v2h-2zM583,91h2v2h-2zM584,91h2v2h-2zM574,97h2v2h-2zM589,91h2v2h-2zM581,93h2v2h-2zM585,91h2v2h-2zM579,98h2v2h-2zM576,95h2v2h-2zM585,87h2v2h-2zM575,97h2v2h-2zM575,98h2v2h-2zM591,93h2v2h-2zM553,108h2v2h-2zM549,97h2v2h-2zM551,97h2v2h-2zM543,100h2v2h-2zM546,106h2v2h-2zM542,105h2v2h-2zM546,104h2v2h-2zM549,100h2v2h-2zM548,98h2v2h-2zM544,104h2v2h-2zM543,103h2v2h-2zM542,99h2v2h-2zM546,108h2v2h-2zM542,98h2v2h-2zM546,71h2v2h-2zM554,71h2v2h-2zM549,71h2v2h-2zM547,68h2v2h-2zM542,81h2v2h-2zM546,77h2v2h-2zM548,74h2v2h-2zM553,72h2v2h-2zM543,80h2v2h-2zM550,70h2v2h-2zM544,69h2v2h-2zM545,70h2v2h-2zM599,131h2v2h-2zM592,132h2v2h-2zM559,127h2v2h-2zM602,128h2v2h-2zM572,123h2v2h-2zM614,130h2v2h-2zM588,129h2v2h-2zM566,122h2v2h-2zM587,129h2v2h-2zM552,123h2v2h-2zM578,126h2v2h-2zM540,124h2v2h-2zM550,128h2v2h-2zM591,131h2v2h-2zM549,122h2v2h-2zM568,127h2v2h-2zM581,125h2v2h-2zM605,133h2v2h-2zM597,127h2v2h-2zM599,128h2v2h-2zM548,123h2v2h-2zM564,125h2v2h-2zM593,131h2v2h-2zM600,132h2v2h-2zM597,130h2v2h-2zM567,124h2v2h-2zM574,131h2v2h-2zM578,130h2v2h-2zM592,125h2v2h-2zM601,127h2v2h-2zM581,127h2v2h-2zM570,127h2v2h-2zM547,121h2v2h-2zM601,130h2v2h-2zM540,123h2v2h-2zM580,131h2v2h-2zM551,127h2v2h-2zM608,130h2v2h-2zM569,126h2v2h-2zM599,129h2v2h-2zM562,130h2v2h-2zM576,131h2v2h-2zM591,126h2v2h-2zM582,131h2v2h-2zM593,126h2v2h-2zM565,130h2v2h-2zM542,121h2v2h-2zM545,128h2v2h-2zM564,123h2v2h-2zM608,132h2v2h-2zM582,126h2v2h-2zM563,128h2v2h-2zM548,124h2v2h-2zM549,125h2v2h-2zM614,132h2v2h-2zM579,124h2v2h-2zM590,128h2v2h-2zM585,124h2v2h-2zM595,129h2v2h-2zM594,126h2v2h-2zM574,123h2v2h-2zM542,126h2v2h-2zM560,130h2v2h-2zM539,124h2v2h-2zM566,128h2v2h-2zM564,124h2v2h-2zM584,132h2v2h-2zM544,127h2v2h-2zM582,125h2v2h-2zM583,133h2v2h-2zM544,107h2v2h-2zM549,104h2v2h-2zM541,100h2v2h-2zM545,110h2v2h-2zM549,108h2v2h-2zM551,105h2v2h-2zM547,111h2v2h-2zM542,111h2v2h-2zM539,107h2v2h-2zM552,105h2v2h-2zM547,105h2v2h-2zM549,101h2v2h-2zM543,110h2v2h-2z"/>
<polygon points="507.11,106.21 496.58,49.40 497.86,49.17 494.20,41.20 493.63,49.95 494.91,49.71 505.44,106.52" fill="#d957d6"/>
<polygon points="505.64,106.44 475.76,57.61 476.87,56.93 470.60,50.80 473.20,59.17 474.31,58.49 504.19,107.33" fill="#d957d6"/>
<polygon points="503.45,108.27 451.25,91.58 451.65,90.34 442.90,89.80 450.34,94.44 450.74,93.20 502.93,109.89" fill="#d957d6"/>
<polygon points="505.13,113.94 490.31,168.57 489.05,168.23 488.90,177.00 493.20,169.36 491.95,169.02 506.77,114.38" fill="#d957d6"/>
<polygon points="507.84,114.30 523.79,150.37 522.60,150.90 528.00,157.80 526.53,149.16 525.34,149.68 509.39,113.61" fill="#d957d6"/>
<polygon points="509.86,113.23 538.16,132.09 537.43,133.17 545.70,136.10 539.82,129.60 539.10,130.68 510.80,111.81" fill="#d957d6"/>
<polygon points="510.71,112.02 608.72,134.34 608.43,135.61 617.20,135.40 609.39,131.42 609.10,132.68 511.09,110.36" fill="#d957d6"/>
<polygon points="511.09,110.22 601.52,89.06 601.81,90.33 609.60,86.30 600.83,86.14 601.13,87.41 510.70,108.56" fill="#d957d6"/>
<polygon points="510.97,109.33 572.21,79.85 572.77,81.02 579.50,75.40 570.91,77.15 571.47,78.32 510.24,107.80" fill="#d957d6"/>
<polygon points="510.64,108.43 558.55,69.43 559.37,70.43 564.60,63.40 556.65,67.10 557.47,68.11 509.57,107.12" fill="#d957d6"/>
<polygon points="510.05,107.58 534.45,74.35 535.50,75.12 538.80,67.00 532.04,72.58 533.08,73.35 508.68,106.57" fill="#d957d6"/>
<polygon points="509.12,106.80 524.71,62.01 525.94,62.43 526.70,53.70 521.88,61.02 523.10,61.45 507.51,106.24" fill="#d957d6"/>
<polygon points="506.80,102.50 508.80,106.84 513.55,107.41 510.04,110.65 510.97,115.34 506.80,113.01 502.63,115.34 503.56,110.65 500.05,107.41 504.80,106.84" fill="#c2c120"/>
<polygon points="416.00,89.00 417.97,93.28 422.66,93.84 419.20,97.04 420.11,101.66 416.00,99.36 411.89,101.66 412.80,97.04 409.34,93.84 414.03,93.28" fill="#c2c120"/>
</g></svg>
<text x="485.8" y="38.1" class="b">BF1</text>
<text x="453.3" y="54.2" class="b">BF2</text>
<text x="434.5" y="88.1" class="b">BF3</text>
<text x="480.6" y="189.3" class="b">BF4</text>
<text x="526.9" y="169.4" class="b">BF5</text>
<text x="544.2" y="145.5" class="b">BF6</text>
<text x="621.9" y="144.1" class="b">BF7</text>
<text x="611.6" y="89.9" class="b">BF8</text>
<text x="581.4" y="74.9" class="b">BF9</text>
<text x="562.9" y="61.2" class="b">BF10</text>
<text x="533.3" y="65.0" class="b">BF11</text>
<text x="524.3" y="49.6" class="b">BF12</text>
</svg>
</body></html>
